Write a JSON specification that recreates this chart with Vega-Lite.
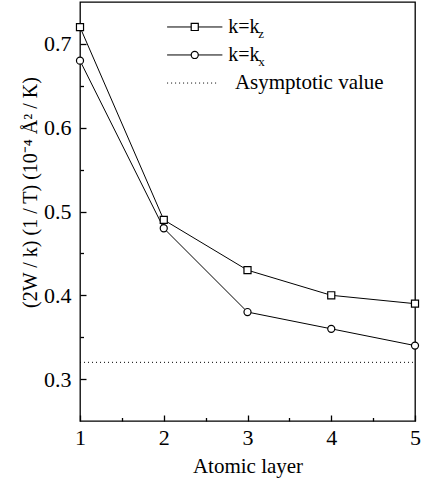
{
  "$schema": "https://vega.github.io/schema/vega-lite/v6.json",
  "autosize": "none",
  "width": 335,
  "height": 419,
  "padding": {"left": 80, "top": 2, "right": 7, "bottom": 64},
  "background": "white",
  "config": {
    "font": "Liberation Serif",
    "view": {"stroke": "black", "strokeWidth": 1.3},
    "axis": {"grid": false, "domain": false, "ticks": true, "tickColor": "black", "labelColor": "black", "titleColor": "black", "titleFontWeight": "normal", "labelFont": "Liberation Serif", "titleFont": "Liberation Serif"}
  },
  "datasets": {
    "series": [
      {"layer": 1, "value": 0.72, "series": "kz"},
      {"layer": 2, "value": 0.49, "series": "kz"},
      {"layer": 3, "value": 0.43, "series": "kz"},
      {"layer": 4, "value": 0.40, "series": "kz"},
      {"layer": 5, "value": 0.39, "series": "kz"},
      {"layer": 1, "value": 0.68, "series": "kx"},
      {"layer": 2, "value": 0.48, "series": "kx"},
      {"layer": 3, "value": 0.38, "series": "kx"},
      {"layer": 4, "value": 0.36, "series": "kx"},
      {"layer": 5, "value": 0.34, "series": "kx"}
    ],
    "one": [{}]
  },
  "resolve": {"axis": {"x": "independent", "y": "independent"}},
  "layer": [
    {
      "data": {"name": "series"},
      "mark": {"type": "line", "color": "black", "strokeWidth": 1},
      "encoding": {
        "x": {"field": "layer", "type": "quantitative", "scale": {"domain": [1, 5], "nice": false, "zero": false},
          "axis": {"orient": "bottom", "values": [1, 2, 3, 4, 5], "format": "d", "title": "Atomic layer", "titleFontSize": 21, "labelFontSize": 22, "tickSize": -6, "tickWidth": 1.3, "labelPadding": 12, "titlePadding": 7, "labelFlush": false}},
        "y": {"field": "value", "type": "quantitative", "scale": {"domain": [0.25, 0.75], "nice": false, "zero": false},
          "axis": {"orient": "left", "values": [0.3, 0.4, 0.5, 0.6, 0.7], "format": ".1f", "title": "(2W / k) (1 / T) (10⁻⁴ Å² / K)", "titleFontSize": 20, "labelFontSize": 22, "tickSize": -6, "tickWidth": 1.3, "labelPadding": 15, "titlePadding": 3, "titleY": 190}},
        "detail": {"field": "series"}
      }
    },
    {
      "data": {"name": "series"},
      "mark": {"type": "point", "filled": true, "fill": "white", "stroke": "black", "strokeWidth": 1.2, "size": 50, "opacity": 1},
      "encoding": {
        "x": {"field": "layer", "type": "quantitative", "scale": {"domain": [1, 5], "nice": false, "zero": false},
          "axis": {"orient": "bottom", "values": [1.5, 2.5, 3.5, 4.5], "labels": false, "title": null, "tickSize": -3.5, "tickWidth": 1.3}},
        "y": {"field": "value", "type": "quantitative", "scale": {"domain": [0.25, 0.75], "nice": false, "zero": false},
          "axis": {"orient": "left", "values": [0.35, 0.45, 0.55, 0.65], "labels": false, "title": null, "tickSize": -3.5, "tickWidth": 1.3}},
        "shape": {"field": "series", "type": "nominal", "scale": {"domain": ["kz", "kx"], "range": ["square", "circle"]}, "legend": null}
      }
    },
    {
      "data": {"name": "one"},
      "mark": {"type": "rule", "color": "black", "strokeWidth": 1, "strokeDash": [1, 3]},
      "encoding": {
        "x": {"datum": 1, "type": "quantitative", "axis": null},
        "x2": {"datum": 5},
        "y": {"datum": 0.32, "type": "quantitative", "axis": null}
      }
    },
    {
      "data": {"name": "one"},
      "mark": {"type": "rule", "color": "black", "strokeWidth": 1},
      "encoding": {
        "x": {"datum": 2.04, "type": "quantitative", "axis": null},
        "x2": {"datum": 2.70},
        "y": {"datum": 0.7202, "type": "quantitative", "axis": null}
      }
    },
    {
      "data": {"name": "one"},
      "mark": {"type": "rule", "color": "black", "strokeWidth": 1},
      "encoding": {
        "x": {"datum": 2.04, "type": "quantitative", "axis": null},
        "x2": {"datum": 2.70},
        "y": {"datum": 0.6868, "type": "quantitative", "axis": null}
      }
    },
    {
      "data": {"name": "one"},
      "mark": {"type": "rule", "color": "black", "strokeWidth": 1, "strokeDash": [1, 3]},
      "encoding": {
        "x": {"datum": 2.04, "type": "quantitative", "axis": null},
        "x2": {"datum": 2.66},
        "y": {"datum": 0.6533, "type": "quantitative", "axis": null}
      }
    },
    {
      "data": {"name": "one"},
      "mark": {"type": "point", "shape": "square", "filled": true, "fill": "white", "stroke": "black", "strokeWidth": 1.2, "size": 50, "opacity": 1},
      "encoding": {
        "x": {"datum": 2.37, "type": "quantitative", "axis": null},
        "y": {"datum": 0.7202, "type": "quantitative", "axis": null}
      }
    },
    {
      "data": {"name": "one"},
      "mark": {"type": "point", "shape": "circle", "filled": true, "fill": "white", "stroke": "black", "strokeWidth": 1.2, "size": 50, "opacity": 1},
      "encoding": {
        "x": {"datum": 2.37, "type": "quantitative", "axis": null},
        "y": {"datum": 0.6868, "type": "quantitative", "axis": null}
      }
    },
    {
      "data": {"name": "one"},
      "mark": {"type": "text", "align": "left", "baseline": "middle", "fontSize": 20, "color": "black", "font": "Liberation Serif"},
      "encoding": {
        "x": {"datum": 2.77, "type": "quantitative", "axis": null},
        "y": {"datum": 0.7202, "type": "quantitative", "axis": null},
        "text": {"value": "k=k"}
      }
    },
    {
      "data": {"name": "one"},
      "mark": {"type": "text", "align": "left", "baseline": "middle", "fontSize": 13, "color": "black", "font": "Liberation Serif", "dx": 30, "dy": 7},
      "encoding": {
        "x": {"datum": 2.77, "type": "quantitative", "axis": null},
        "y": {"datum": 0.7202, "type": "quantitative", "axis": null},
        "text": {"value": "z"}
      }
    },
    {
      "data": {"name": "one"},
      "mark": {"type": "text", "align": "left", "baseline": "middle", "fontSize": 20, "color": "black", "font": "Liberation Serif"},
      "encoding": {
        "x": {"datum": 2.77, "type": "quantitative", "axis": null},
        "y": {"datum": 0.6868, "type": "quantitative", "axis": null},
        "text": {"value": "k=k"}
      }
    },
    {
      "data": {"name": "one"},
      "mark": {"type": "text", "align": "left", "baseline": "middle", "fontSize": 13, "color": "black", "font": "Liberation Serif", "dx": 30, "dy": 7},
      "encoding": {
        "x": {"datum": 2.77, "type": "quantitative", "axis": null},
        "y": {"datum": 0.6868, "type": "quantitative", "axis": null},
        "text": {"value": "x"}
      }
    },
    {
      "data": {"name": "one"},
      "mark": {"type": "text", "align": "left", "baseline": "middle", "fontSize": 21, "color": "black", "font": "Liberation Serif"},
      "encoding": {
        "x": {"datum": 2.85, "type": "quantitative", "axis": null},
        "y": {"datum": 0.6533, "type": "quantitative", "axis": null},
        "text": {"value": "Asymptotic value"}
      }
    }
  ]
}
